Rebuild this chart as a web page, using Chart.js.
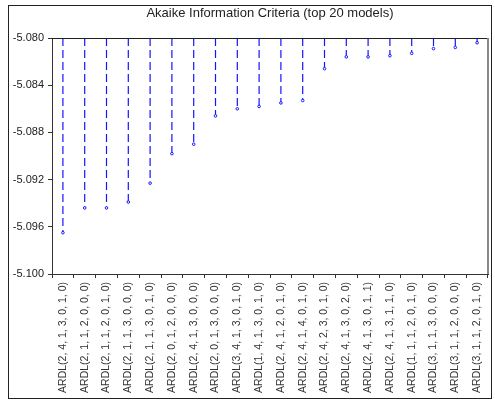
<!DOCTYPE html>
<html>
<head>
<meta charset="utf-8">
<script src="https://cdn.jsdelivr.net/npm/chart.js@4/dist/chart.umd.min.js"></script>
<style>
  html, body { margin: 0; padding: 0; background: #fff; }
  #wrap { width: 495px; height: 400px; }
</style>
</head>
<body>
<div id="wrap"><canvas id="aic" width="495" height="400"></canvas></div>
<script>
// Top 20 ARDL specifications ranked by Akaike information criterion
const models = [
  'ARDL(2, 4, 1, 3, 0, 1, 0)', 'ARDL(2, 1, 1, 2, 0, 0, 0)', 'ARDL(2, 1, 1, 2, 0, 1, 0)',
  'ARDL(2, 1, 1, 3, 0, 0, 0)', 'ARDL(2, 1, 1, 3, 0, 1, 0)', 'ARDL(2, 0, 1, 2, 0, 0, 0)',
  'ARDL(2, 4, 1, 3, 0, 0, 0)', 'ARDL(2, 0, 1, 3, 0, 0, 0)', 'ARDL(3, 4, 1, 3, 0, 1, 0)',
  'ARDL(1, 4, 1, 3, 0, 1, 0)', 'ARDL(2, 4, 1, 2, 0, 1, 0)', 'ARDL(2, 4, 1, 4, 0, 1, 0)',
  'ARDL(2, 4, 2, 3, 0, 1, 0)', 'ARDL(2, 4, 1, 3, 0, 2, 0)', 'ARDL(2, 4, 1, 3, 0, 1, 1)',
  'ARDL(2, 4, 1, 3, 1, 1, 0)', 'ARDL(1, 1, 1, 2, 0, 1, 0)', 'ARDL(3, 1, 1, 3, 0, 0, 0)',
  'ARDL(3, 1, 1, 2, 0, 0, 0)', 'ARDL(3, 1, 1, 2, 0, 1, 0)'
];
const aicValues = [
  -5.0965, -5.0944, -5.0944, -5.0939, -5.0923, -5.0898, -5.0890, -5.0866, -5.0860, -5.0858,
  -5.0855, -5.0853, -5.0826, -5.0816, -5.0816, -5.0815, -5.0813, -5.0809, -5.0808, -5.0804
];
const yTickValues = [-5.100, -5.096, -5.092, -5.088, -5.084, -5.080];
const stemTop = -5.080;

// Each stem: top of axis -> model value, then a gap
const stemPoints = [];
models.forEach((m, i) => {
  stemPoints.push({ x: m, y: stemTop, tip: false });
  stemPoints.push({ x: m, y: aicValues[i], tip: true });
  stemPoints.push({ x: m, y: null, tip: false });
});

const FONT = "'Liberation Sans', Arial, sans-serif";

const framePlugin = {
  id: 'frame',
  afterLayout(chart) {
    // center the title over the plotting area
    const t = chart.titleBlock;
    if (t) { t.left = chart.chartArea.left; t.right = chart.chartArea.right; }
  },
  beforeDraw(chart) {
    const c = chart.ctx;
    c.save();
    c.fillStyle = '#fff';
    c.fillRect(0, 0, chart.width, chart.height);
    c.strokeStyle = '#222';
    c.lineWidth = 1;
    c.strokeRect(8.5, 5.5, 483, 393);
    c.restore();
  },
  afterDraw(chart) {
    const a = chart.chartArea, c = chart.ctx;
    c.save();
    c.strokeStyle = '#222';
    c.lineWidth = 1;
    c.beginPath();
    c.moveTo(a.left, a.top + 0.5);
    c.lineTo(a.right, a.top + 0.5);
    c.stroke();
    c.strokeStyle = '#888';
    c.lineWidth = 2;
    c.beginPath();
    c.moveTo(a.right, a.top);
    c.lineTo(a.right, a.bottom);
    c.stroke();
    c.restore();
  }
};

new Chart(document.getElementById('aic'), {
  type: 'line',
  data: {
    labels: models,
    datasets: [{
      data: stemPoints,
      borderColor: '#1414ff',
      borderWidth: 1.2,
      borderDash: [8, 4],
      spanGaps: false,
      tension: 0,
      pointStyle: 'circle',
      pointBackgroundColor: '#ffffff',
      pointBorderColor: '#1414ff',
      pointBorderWidth: 1,
      pointRadius: ctx => (ctx.raw && ctx.raw.tip ? 1.3 : 0)
    }]
  },
  options: {
    responsive: false,
    animation: false,
    events: [],
    layout: { padding: { left: 9, right: 7, top: 6, bottom: 0 } },
    plugins: {
      legend: { display: false },
      tooltip: { enabled: false },
      title: {
        display: true,
        text: 'Akaike Information Criteria (top 20 models)',
        color: '#222',
        font: { family: FONT, size: 13, weight: 'normal' },
        padding: { top: 0, bottom: 16.4 }
      }
    },
    scales: {
      x: {
        type: 'category',
        offset: true,
        grid: { display: true, offset: true, drawOnChartArea: false, tickLength: 4, tickColor: '#333' },
        border: { display: true, color: '#333', width: 1 },
        ticks: {
          autoSkip: false,
          maxRotation: 90,
          minRotation: 90,
          padding: 4,
          color: '#333',
          font: { family: FONT, size: 10.5 }
        },
        afterFit(scale) { scale.height = 126; }
      },
      y: {
        min: -5.100,
        max: -5.080,
        grid: { display: true, drawOnChartArea: false, tickLength: 4, tickColor: '#333' },
        border: { display: true, color: '#333', width: 1 },
        afterBuildTicks(scale) { scale.ticks = yTickValues.map(v => ({ value: v })); },
        ticks: {
          padding: 4,
          color: '#222',
          font: { family: FONT, size: 11 },
          callback: v => Number(v).toFixed(3)
        },
        afterFit(scale) { scale.width = 43; }
      }
    }
  },
  plugins: [framePlugin]
});
</script>
</body>
</html>
